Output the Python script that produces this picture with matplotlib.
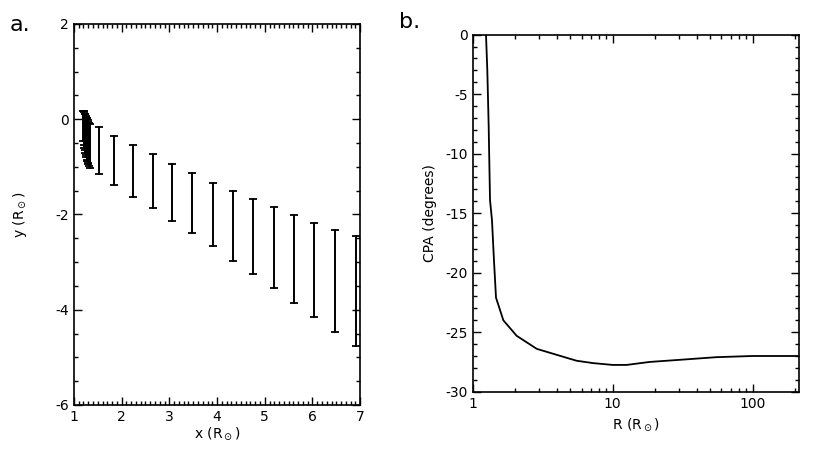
import numpy as np
import matplotlib.pyplot as plt
from matplotlib.ticker import MultipleLocator, FixedLocator, NullFormatter

# panel a: vertical error bars (x, top, bottom)
bar_x = [1.20, 1.21, 1.22, 1.23, 1.24, 1.25, 1.26, 1.27, 1.28, 1.29, 1.30, 1.32, 1.34,
         1.52, 1.85, 2.23, 2.65, 3.06, 3.48, 3.91, 4.34, 4.76, 5.20, 5.62, 6.03, 6.48, 6.92]
bar_top = [0.18, 0.17, 0.15, 0.12, 0.10, 0.07, 0.05, 0.02, 0.0, -0.02, -0.05, -0.08, -0.10,
           -0.155, -0.35, -0.55, -0.74, -0.95, -1.135, -1.33, -1.50, -1.67, -1.835, -2.01, -2.17, -2.32, -2.46]
bar_bot = [-0.45, -0.55, -0.60, -0.65, -0.70, -0.75, -0.80, -0.85, -0.88, -0.92, -0.95, -0.98, -1.02,
           -1.15, -1.38, -1.625, -1.87, -2.13, -2.38, -2.67, -2.97, -3.25, -3.55, -3.86, -4.16, -4.46, -4.77]

# panel b: CPA vs R
r_vals = [1.245, 1.273, 1.301, 1.330, 1.374, 1.420, 1.468, 1.656, 2.06, 2.87, 3.98,
          5.53, 7.28, 10.0, 12.6, 18.4, 32.0, 55.0, 100.0, 215.0]
cpa_vals = [0.0, -3.1, -7.7, -13.9, -15.6, -19.0, -22.1, -24.0, -25.3, -26.4, -26.9,
            -27.4, -27.6, -27.75, -27.75, -27.5, -27.3, -27.1, -27.0, -27.0]

plt.rcParams['font.family'] = 'DejaVu Sans'
plt.rcParams['axes.unicode_minus'] = False
fig = plt.figure(figsize=(8.3, 4.57), dpi=100)

ax1 = fig.add_axes([0.089, 0.1138, 0.345, 0.8337])
ax2 = fig.add_axes([0.5695, 0.1429, 0.3932, 0.7812])

def style(ax):
    for s in ax.spines.values():
        s.set_linewidth(1.2)
    ax.tick_params(which='both', direction='in', top=True, right=True,
                   labelsize=10, width=1)
    ax.tick_params(which='major', length=6)
    ax.tick_params(which='minor', length=3)

# panel a
for x, t, b in zip(bar_x, bar_top, bar_bot):
    ax1.plot([x, x], [t, b], color='black', lw=1.4)
    ax1.plot([x, x], [t, b], ls='none', marker='_', ms=5.5, mew=1.3, color='black')
ax1.set_xlim(1, 7)
ax1.set_ylim(-6, 2)
ax1.xaxis.set_major_locator(MultipleLocator(1))
ax1.xaxis.set_minor_locator(MultipleLocator(0.1))
ax1.yaxis.set_major_locator(MultipleLocator(2))
ax1.yaxis.set_minor_locator(MultipleLocator(0.5))
style(ax1)
ax1.set_xlabel(r'x (R$_\odot$)', fontsize=10, labelpad=1)
ax1.set_ylabel(r'y (R$_\odot$)', fontsize=10, labelpad=19)

# panel b
ax2.plot(r_vals, cpa_vals, color='black', lw=1.3)
ax2.set_xscale('log')
ax2.set_xlim(1, 215)
ax2.set_ylim(-30, 0)
ax2.xaxis.set_major_locator(FixedLocator([1, 10, 100]))
ax2.xaxis.set_major_formatter(plt.FuncFormatter(lambda v, p: '%d' % v))
ax2.xaxis.set_minor_locator(FixedLocator([m * d for d in [1, 10, 100] for m in range(2, 10) if m * d < 215]))
ax2.xaxis.set_minor_formatter(NullFormatter())
ax2.yaxis.set_major_locator(MultipleLocator(5))
ax2.yaxis.set_minor_locator(MultipleLocator(1))
style(ax2)
ax2.set_xlabel(r'R (R$_\odot$)', fontsize=10, labelpad=4)
ax2.set_ylabel('CPA (degrees)', fontsize=10, labelpad=6)

fig.text(0.012, 0.945, 'a.', fontsize=16, va='center')
fig.text(0.481, 0.952, 'b.', fontsize=16, va='center')

fig.savefig('out.png', dpi=100)
